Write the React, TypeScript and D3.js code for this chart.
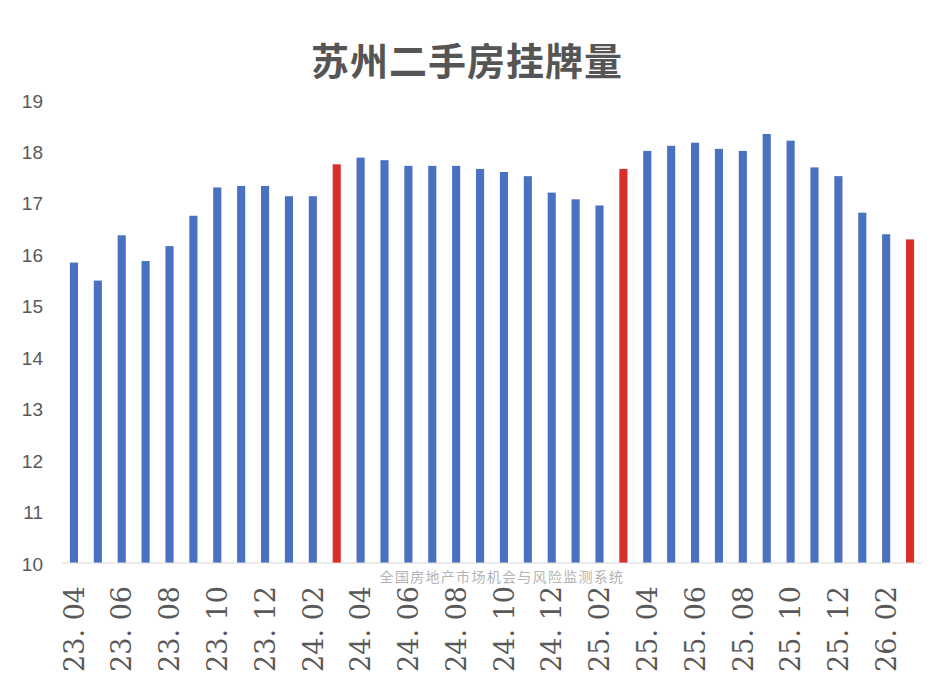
import * as d3 from 'd3';
import React from 'react';

const months = [
  '23.04', '23.05', '23.06', '23.07', '23.08', '23.09', '23.10', '23.11', '23.12',
  '24.01', '24.02', '24.03', '24.04', '24.05', '24.06', '24.07', '24.08', '24.09',
  '24.10', '24.11', '24.12', '25.01', '25.02', '25.03', '25.04', '25.05', '25.06',
  '25.07', '25.08', '25.09', '25.10', '25.11', '25.12', '26.01', '26.02', '26.03',
];

const listings = [
  15.84, 15.49, 16.37, 15.87, 16.16, 16.75, 17.3, 17.33, 17.33,
  17.13, 17.13, 17.75, 17.88, 17.83, 17.72, 17.72, 17.72, 17.66,
  17.6, 17.52, 17.2, 17.07, 16.95, 17.66, 18.01, 18.11, 18.17,
  18.05, 18.01, 18.34, 18.21, 17.69, 17.52, 16.81, 16.39, 16.29,
];

const highlighted = ['24.03', '25.03', '26.03'];
const yTicks = [10, 11, 12, 13, 14, 15, 16, 17, 18, 19];

const title = '苏州二手房挂牌量';
const watermark = '全国房地产市场机会与风险监测系统';

export default function App() {
  const width = 946;
  const height = 699;

  const x = d3
    .scaleBand()
    .domain(months)
    .range([62, 922])
    .paddingInner(0.66)
    .paddingOuter(0.33);
  const y = d3.scaleLinear().domain([10, 19]).range([563, 100]);

  const labelled = months.filter((_, i) => i % 2 === 0);

  return (
    <svg
      width={width}
      height={height}
      style={{ position: 'absolute', left: 0, top: 0, background: '#fff' }}
    >
      <text
        x={467}
        y={58}
        textAnchor="middle"
        dominantBaseline="central"
        fontFamily="'Noto Sans CJK SC', sans-serif"
        fontWeight={600}
        fontSize={38}
        fill="#555555"
        letterSpacing={1}
      >
        {title}
      </text>

      {yTicks.map((t) => (
        <text
          key={t}
          x={43}
          y={y(t) + 1}
          textAnchor="end"
          dominantBaseline="central"
          fontFamily="'Liberation Sans', Arial, sans-serif"
          fontSize={19}
          fill="#595959"
        >
          {t}
        </text>
      ))}

      {months.map((m, i) => (
        <rect
          key={m}
          x={x(m)}
          y={y(listings[i])}
          width={x.bandwidth()}
          height={y(10) - y(listings[i])}
          fill={highlighted.includes(m) ? '#d7302a' : '#4a72c0'}
        />
      ))}

      <line x1={62} x2={922} y1={y(10)} y2={y(10)} stroke="#d9d9d9" strokeWidth={1} />

      <text
        x={502}
        y={576}
        textAnchor="middle"
        dominantBaseline="central"
        fontFamily="'Noto Sans CJK SC', sans-serif"
        fontSize={14}
        fill="#b4b4b4"
        letterSpacing={1.3}
      >
        {watermark}
      </text>

      {labelled.map((m) => {
        const cx = (x(m) ?? 0) + x.bandwidth() / 2;
        return (
          <text
            key={m}
            transform={`translate(${cx}, 586) rotate(-90)`}
            textAnchor="end"
            dy="0.36em"
            fontFamily="'DejaVu Serif', serif"
            fontSize={27}
            fill="#595959"
          >
            {m.replace('.', '. ')}
          </text>
        );
      })}
    </svg>
  );
}
